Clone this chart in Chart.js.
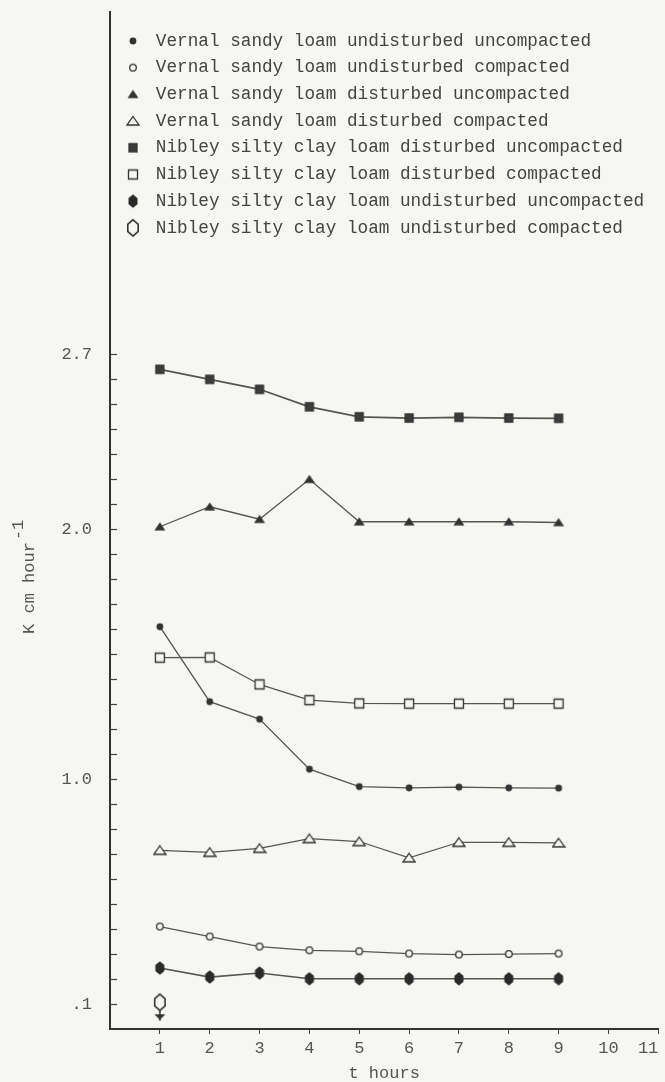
<!DOCTYPE html>
<html>
<head>
<meta charset="utf-8">
<script src="https://cdn.jsdelivr.net/npm/chart.js@4.4.1/dist/chart.umd.min.js"></script>
<style>
  html, body { margin: 0; padding: 0; background: #f6f6f3; }
  #wrap { width: 665px; height: 1082px; position: relative; }
</style>
</head>
<body>
<div id="wrap"><canvas id="soilChart"></canvas></div>
<script>
// hydraulic conductivity K (cm/hour) against time t (hours)
const hours = [1, 2, 3, 4, 5, 6, 7, 8, 9];

const vernalUndistUncomp = [1.61, 1.31, 1.24, 1.04, 0.97, 0.965, 0.968, 0.965, 0.964];
const vernalUndistComp = [0.41, 0.37, 0.33, 0.315, 0.311, 0.302, 0.298, 0.300, 0.302];
const vernalDistUncomp = [2.01, 2.09, 2.04, 2.20, 2.03, 2.03, 2.03, 2.03, 2.027];
const vernalDistComp = [0.715, 0.707, 0.723, 0.762, 0.75, 0.685, 0.747, 0.747, 0.745];
const nibleyDistUncomp = [2.64, 2.60, 2.56, 2.49, 2.45, 2.445, 2.448, 2.445, 2.444];
const nibleyDistComp = [1.486, 1.487, 1.379, 1.316, 1.303, 1.302, 1.302, 1.302, 1.302];
const nibleyUndistUncomp = [0.244, 0.208, 0.224, 0.201, 0.201, 0.201, 0.201, 0.201, 0.201];
const nibleyUndistComp = [0.107]; // only hour 1, below .1 after that

const seriesLabels = [
  "Vernal sandy loam undisturbed uncompacted",
  "Vernal sandy loam undisturbed compacted",
  "Vernal sandy loam disturbed uncompacted",
  "Vernal sandy loam disturbed compacted",
  "Nibley silty clay loam disturbed uncompacted",
  "Nibley silty clay loam disturbed compacted",
  "Nibley silty clay loam undisturbed uncompacted",
  "Nibley silty clay loam undisturbed compacted",
];

const yTickValues = [0.1, 1.0, 2.0, 2.7];
const yTickText = [".1", "1.0", "2.0", "2.7"];

const INK = "#333";
const PAPER = "#f6f6f3";
const MONO = "'Liberation Mono', 'Courier New', 'DejaVu Sans Mono', monospace";

// small canvases used as point styles
function marker(kind) {
  const c = document.createElement("canvas");
  let w = 14, h = 14;
  if (kind === "hexOpenArrow") { w = 16; h = 38; }
  else if (kind === "hexFilled" || kind === "hexOpen") { w = 14; h = 20; }
  c.width = w; c.height = h;
  const g = c.getContext("2d");
  const cx = w / 2, cy = h / 2;
  g.fillStyle = INK;
  g.strokeStyle = INK;
  g.lineWidth = 1.3;
  g.beginPath();
  if (kind === "dot") {
    g.arc(cx, cy, 3.4, 0, Math.PI * 2);
    g.fill();
  } else if (kind === "ring") {
    g.arc(cx, cy, 3.3, 0, Math.PI * 2);
    g.fillStyle = PAPER; g.fill(); g.stroke();
  } else if (kind === "triFilled") {
    g.moveTo(cx, cy - 4.5); g.lineTo(cx + 5.5, cy + 3.8); g.lineTo(cx - 5.5, cy + 3.8); g.closePath();
    g.fill();
  } else if (kind === "triOpen") {
    g.moveTo(cx, cy - 4.5); g.lineTo(cx + 6, cy + 4); g.lineTo(cx - 6, cy + 4); g.closePath();
    g.fillStyle = PAPER; g.fill(); g.stroke();
  } else if (kind === "sqFilled") {
    g.rect(cx - 4, cy - 4, 8, 8);
    g.fillStyle = "#3c3c3c"; g.fill(); g.stroke();
  } else if (kind === "sqOpen") {
    g.rect(cx - 4.5, cy - 4.5, 9, 9);
    g.fillStyle = PAPER; g.fill(); g.stroke();
  } else {
    const hw = kind === "hexFilled" ? 4.5 : 5.2;
    const hh = kind === "hexFilled" ? 6.8 : 8.2;
    g.moveTo(cx, cy - hh); g.lineTo(cx + hw, cy - hh * 0.45); g.lineTo(cx + hw, cy + hh * 0.45);
    g.lineTo(cx, cy + hh); g.lineTo(cx - hw, cy + hh * 0.45); g.lineTo(cx - hw, cy - hh * 0.45); g.closePath();
    if (kind === "hexFilled") { g.fillStyle = "#2a2a2a"; g.fill(); }
    else { g.lineWidth = 1.6; g.fillStyle = PAPER; g.fill(); g.stroke(); }
    if (kind === "hexOpenArrow") {
      g.beginPath();
      g.moveTo(cx, cy + hh); g.lineTo(cx, cy + 18.5);
      g.stroke();
      g.beginPath();
      g.moveTo(cx - 5.5, cy + 12); g.lineTo(cx + 5.5, cy + 12); g.lineTo(cx, cy + 17.5); g.closePath();
      g.fillStyle = INK; g.fill();
    }
  }
  return c;
}

const pointMarkers = ["dot", "ring", "triFilled", "triOpen", "sqFilled", "sqOpen", "hexFilled", "hexOpenArrow"].map(marker);
const legendMarkers = ["dot", "ring", "triFilled", "triOpen", "sqFilled", "sqOpen", "hexFilled", "hexOpen"].map(marker);

const seriesValues = [
  vernalUndistUncomp, vernalUndistComp, vernalDistUncomp, vernalDistComp,
  nibleyDistUncomp, nibleyDistComp, nibleyUndistUncomp, nibleyUndistComp,
];
const lineWidths = [1.3, 1.2, 1.3, 1.1, 1.7, 1.2, 1.7, 1.2];

const datasets = seriesValues.map((vals, i) => ({
  label: seriesLabels[i],
  data: vals.map((v, k) => ({ x: hours[k], y: v })),
  borderColor: "#555",
  borderWidth: lineWidths[i],
  pointStyle: pointMarkers[i],
  pointRadius: 5,
  tension: 0,
  fill: false,
}));

// y ticks in this plot point into the plot area
const inwardTicks = {
  id: "inwardTicks",
  afterDraw(chart) {
    const ys = chart.scales.y, xs = chart.scales.x, ctx = chart.ctx;
    const top = Math.max(...yTickValues);
    ctx.save();
    ctx.strokeStyle = "#444";
    ctx.lineWidth = 1.2;
    ys.ticks.forEach(t => {
      if (t.value <= 0 || t.value > top + 1e-6) return;
      const py = Math.round(ys.getPixelForValue(t.value)) + 0.5;
      ctx.beginPath();
      ctx.moveTo(xs.left, py);
      ctx.lineTo(xs.left + 7, py);
      ctx.stroke();
    });
    ctx.restore();
  }
};

// rotated y title with raised -1
const yTitle = {
  id: "yTitle",
  afterDraw(chart) {
    const ctx = chart.ctx;
    ctx.save();
    ctx.translate(29, 588);
    ctx.rotate(-Math.PI / 2);
    ctx.font = "17px " + MONO;
    ctx.fillStyle = "#555";
    ctx.textBaseline = "middle";
    ctx.textAlign = "center";
    const main = "K cm hour";
    ctx.fillText(main, 0, 0);
    ctx.textAlign = "left";
    ctx.fillText("-1", ctx.measureText(main).width / 2 + 2, -11);
    ctx.restore();
  }
};

const tickFont = { family: MONO, size: 17 };

new Chart(document.getElementById("soilChart"), {
  type: "line",
  data: { datasets },
  plugins: [inwardTicks, yTitle],
  options: {
    responsive: true,
    maintainAspectRatio: false,
    animation: false,
    events: [],
    layout: { padding: { top: 12, right: 6, left: 0, bottom: 0 } },
    scales: {
      x: {
        type: "linear",
        min: 0,
        max: 11,
        afterFit: s => { s.height = 53; s.paddingLeft = 0; s.paddingRight = 0; },
        ticks: {
          stepSize: 1,
          autoSkip: false,
          maxRotation: 0,
          align: "inner",
          padding: 4,
          color: "#555",
          font: tickFont,
          callback: v => (v === 0 ? "" : String(v)),
        },
        grid: {
          drawOnChartArea: false,
          drawTicks: true,
          tickLength: 5,
          lineWidth: 1,
          color: c => (c.tick && c.tick.value === 0 ? "rgba(0,0,0,0)" : "#444"),
        },
        border: { display: true, color: INK, width: 2 },
        title: {
          display: true,
          text: "t hours",
          color: "#555",
          font: { family: MONO, size: 17, lineHeight: 1 },
          padding: { top: 0, bottom: 0 },
        },
      },
      y: {
        type: "linear",
        min: 0,
        max: 4.07,
        afterFit: s => { s.width = 110; s.paddingTop = 0; s.paddingBottom = 0; },
        ticks: {
          stepSize: 0.1,
          autoSkip: false,
          padding: 18,
          color: "#555",
          font: tickFont,
          callback: v => {
            const k = yTickValues.findIndex(t => Math.abs(t - v) < 1e-6);
            return k < 0 ? "" : yTickText[k];
          },
        },
        grid: { drawOnChartArea: false, drawTicks: false },
        border: { display: true, color: INK, width: 2 },
      },
    },
    plugins: {
      tooltip: { enabled: false },
      legend: {
        position: "chartArea",
        align: "start",
        title: { display: true, text: "", padding: { top: 13.5, bottom: 0 }, font: { size: 8 } },
        labels: {
          usePointStyle: true,
          pointStyleWidth: 28,
          padding: 9,
          color: "#444",
          font: { family: MONO, size: 17.7 },
          generateLabels: chart => chart.data.datasets.map((ds, i) => ({
            text: ds.label,
            pointStyle: legendMarkers[i],
            fillStyle: "rgba(0,0,0,0)",
            strokeStyle: "rgba(0,0,0,0)",
            lineWidth: 0,
            hidden: false,
            datasetIndex: i,
            fontColor: "#444",
          })),
        },
      },
    },
  },
});
</script>
</body>
</html>
